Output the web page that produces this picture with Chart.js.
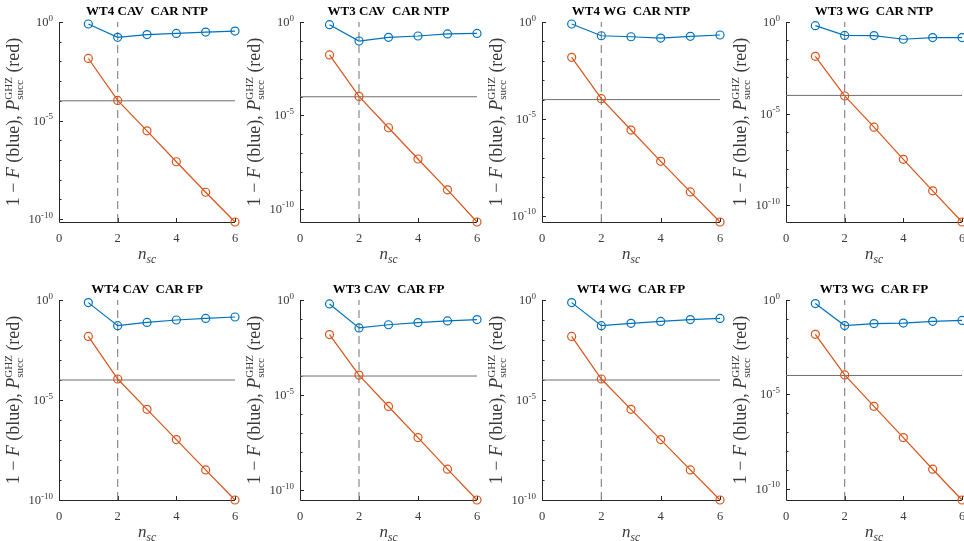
<!DOCTYPE html>
<html>
<head>
<meta charset="utf-8">
<script src="https://cdn.jsdelivr.net/npm/chart.js@4.4.1/dist/chart.umd.min.js"></script>
<style>
  html, body { margin: 0; padding: 0; background: #fff; overflow: hidden; }
  #fig { position: relative; width: 964px; height: 541px; overflow: hidden; background: #fff; }
  #fig canvas { position: absolute; }
</style>
</head>
<body>
<div id="fig"></div>
<script>
// Number of spectral channels on the x axis
const nsc = [1, 2, 3, 4, 5, 6];
const xTicks = [0, 2, 4, 6];
const yLabelDecades = [0, -5, -10];
const threshold = 1e-4;   // horizontal reference level
const cutoffN = 2;        // vertical dashed marker

const titles = [
  'WT4 CAV  CAR NTP', 'WT3 CAV  CAR NTP', 'WT4 WG  CAR NTP', 'WT3 WG  CAR NTP',
  'WT4 CAV  CAR FP',  'WT3 CAV  CAR FP',  'WT4 WG  CAR FP',  'WT3 WG  CAR FP'
];

// 1 - F (blue)
const infidWT4CavNtp = [0.79, 0.166, 0.229, 0.263, 0.309, 0.347];
const infidWT3CavNtp = [0.72, 0.096, 0.151, 0.178, 0.229, 0.245];
const infidWT4WgNtp  = [0.79, 0.195, 0.174, 0.148, 0.182, 0.214];
const infidWT3WgNtp  = [0.63, 0.186, 0.182, 0.115, 0.141, 0.141];
const infidWT4CavFp  = [0.74, 0.052, 0.076, 0.100, 0.120, 0.141];
const infidWT3CavFp  = [0.62, 0.034, 0.050, 0.065, 0.079, 0.093];
const infidWT4WgFp   = [0.74, 0.052, 0.068, 0.085, 0.105, 0.120];
const infidWT3WgFp   = [0.65, 0.044, 0.056, 0.060, 0.074, 0.083];

// P_succ^GHZ (red)
const psuccWT4CavNtp = [1.41e-2, 1.05e-4, 3.0e-6, 8.1e-8, 2.3e-9, 7.1e-11];
const psuccWT3CavNtp = [1.74e-2, 1.05e-4, 2.2e-6, 4.7e-8, 1.05e-9, 2.0e-11];
const psuccWT4WgNtp  = [1.51e-2, 1.12e-4, 2.7e-6, 6.6e-8, 1.74e-9, 4.9e-11];
const psuccWT3WgNtp  = [1.35e-2, 9.3e-5, 1.86e-6, 3.3e-8, 6.3e-10, 1.26e-11];
const psuccWT4CavFp  = [1.51e-2, 1.12e-4, 3.4e-6, 1.05e-7, 3.2e-9, 1.0e-10];
const psuccWT3CavFp  = [1.51e-2, 1.12e-4, 2.5e-6, 5.8e-8, 1.26e-9, 3.0e-11];
const psuccWT4WgFp   = [1.51e-2, 1.12e-4, 3.4e-6, 1.05e-7, 3.2e-9, 1.0e-10];
const psuccWT3WgFp   = [1.51e-2, 1.07e-4, 2.3e-6, 5.1e-8, 1.07e-9, 2.5e-11];

const infidSeries = [infidWT4CavNtp, infidWT3CavNtp, infidWT4WgNtp, infidWT3WgNtp,
                     infidWT4CavFp, infidWT3CavFp, infidWT4WgFp, infidWT3WgFp];
const psuccSeries = [psuccWT4CavNtp, psuccWT3CavNtp, psuccWT4WgNtp, psuccWT3WgNtp,
                     psuccWT4CavFp, psuccWT3CavFp, psuccWT4WgFp, psuccWT3WgFp];

// ---- layout / style ----
const BLUE = '#0072BD';
const RED = '#D95319';
const AXIS = '#262626';
const TEXT = '#3a3a3a';
const SERIF = '"Liberation Serif", "DejaVu Serif", serif';
const colLeft = [59, 300, 542, 786];
const colWidth = [176, 177, 178, 176];
const rowTop = [22, 300];
const plotH = 200;
const yAxisW = 59, topPad = 22, rightPad = 14, canvasH = 270;

function segWidth(ctx, s) {
  ctx.font = s.font;
  if (s.sup !== undefined) return Math.max(ctx.measureText(s.sup).width, ctx.measureText(s.sub).width);
  return ctx.measureText(s.text).width;
}
function segsWidth(ctx, segs) { return segs.reduce((a, s) => a + segWidth(ctx, s), 0); }
function drawSegs(ctx, segs, x, y) {
  let cx = x;
  for (const s of segs) {
    ctx.font = s.font;
    if (s.sup !== undefined) {
      ctx.fillText(s.sup, cx, y - s.up);
      ctx.fillText(s.sub, cx, y + s.down);
    } else {
      ctx.fillText(s.text, cx, y + (s.dy || 0));
    }
    cx += segWidth(ctx, s);
  }
}

const decorPlugin = {
  id: 'decor',
  beforeDatasetsDraw(chart, args, opts) {
    const { ctx, chartArea: a, scales: { x, y } } = chart;
    ctx.save();
    ctx.strokeStyle = AXIS;
    ctx.lineWidth = 1;
    // axis lines
    ctx.beginPath();
    ctx.moveTo(a.left + 0.5, a.top);
    ctx.lineTo(a.left + 0.5, a.bottom + 0.5);
    ctx.lineTo(a.right, a.bottom + 0.5);
    ctx.stroke();
    // inward ticks on y (every decade)
    ctx.beginPath();
    const lo = Math.ceil(Math.log10(y.min) - 1e-9);
    for (let d = lo; d <= 0; d++) {
      const py = Math.round(y.getPixelForValue(Math.pow(10, d))) + 0.5;
      const len = (d % 5 === 0) ? 4 : 2.5;
      ctx.moveTo(a.left, py);
      ctx.lineTo(a.left + len, py);
    }
    for (const t of xTicks) {
      const px = Math.round(x.getPixelForValue(t)) + 0.5;
      ctx.moveTo(px, a.bottom);
      ctx.lineTo(px, a.bottom - 4);
    }
    ctx.stroke();
    ctx.restore();
  },
  afterDraw(chart, args, opts) {
    const { ctx, chartArea: a, scales: { x, y } } = chart;
    ctx.save();
    ctx.fillStyle = TEXT;
    ctx.textBaseline = 'alphabetic';
    // y tick labels 10^k
    for (const d of yLabelDecades) {
      const v = Math.pow(10, d);
      if (v < y.min * 0.999) continue;
      const py = y.getPixelForValue(v);
      const segs = [
        { text: '10', font: '12.5px ' + SERIF },
        { text: d === 0 ? '0' : '-' + Math.abs(d), font: '9px ' + SERIF, dy: -5.5 }
      ];
      const w = segsWidth(ctx, segs);
      drawSegs(ctx, segs, a.left - 6 - w, py + 4);
    }
    // x tick labels
    ctx.font = '12.5px ' + SERIF;
    ctx.textAlign = 'center';
    for (const t of xTicks) {
      ctx.fillText(String(t), x.getPixelForValue(t), a.bottom + 20);
    }
    ctx.textAlign = 'left';
    // x axis title: n_sc
    const xl = [
      { text: 'n', font: 'italic 17px ' + SERIF },
      { text: 'sc', font: 'italic 11.5px ' + SERIF, dy: 3.5 }
    ];
    const xw = segsWidth(ctx, xl);
    drawSegs(ctx, xl, (a.left + a.right) / 2 - xw / 2, a.bottom + 37);
    // y axis title
    const yl = [
      { text: '1 \u2212 ', font: '18px ' + SERIF },
      { text: 'F', font: 'italic 18px ' + SERIF },
      { text: ' (blue), ', font: '18px ' + SERIF },
      { text: 'P', font: 'italic 18px ' + SERIF },
      { sup: 'GHZ', sub: 'succ', font: '11px ' + SERIF, up: 7.5, down: 4 },
      { text: ' (red)', font: '18px ' + SERIF }
    ];
    const yw = segsWidth(ctx, yl);
    ctx.translate(a.left - 40, (a.top + a.bottom) / 2);
    ctx.rotate(-Math.PI / 2);
    drawSegs(ctx, yl, -yw / 2, 0);
    ctx.setTransform(1, 0, 0, 1, 0, 0);
    // panel title
    ctx.fillStyle = '#000';
    ctx.font = 'bold 13px ' + SERIF;
    ctx.textAlign = 'center';
    ctx.fillText(opts.title, (a.left + a.right) / 2, a.top - 7);
    ctx.restore();
  }
};

const fig = document.getElementById('fig');
titles.forEach((title, i) => {
  const r = Math.floor(i / 4), c = i % 4;
  const cv = document.createElement('canvas');
  const w = yAxisW + colWidth[c] + rightPad;
  cv.width = w; cv.height = canvasH;
  cv.style.left = (colLeft[c] - yAxisW) + 'px';
  cv.style.top = (rowTop[r] - topPad) + 'px';
  cv.style.width = w + 'px'; cv.style.height = canvasH + 'px';
  fig.appendChild(cv);

  const infid = infidSeries[i], psucc = psuccSeries[i];
  const yMin = Math.min(...psucc, ...infid);
  const pts = arr => nsc.map((n, k) => ({ x: n, y: arr[k] }));

  new Chart(cv.getContext('2d'), {
    type: 'line',
    data: {
      datasets: [
        { label: '1 - F', data: pts(infid), borderColor: BLUE, borderWidth: 1.2,
          pointRadius: 4, pointBorderWidth: 1.2, pointBorderColor: BLUE,
          pointBackgroundColor: 'rgba(0,0,0,0)', clip: false, order: 0 },
        { label: 'P succ GHZ', data: pts(psucc), borderColor: RED, borderWidth: 1.2,
          pointRadius: 4, pointBorderWidth: 1.2, pointBorderColor: RED,
          pointBackgroundColor: 'rgba(0,0,0,0)', clip: false, order: 1 },
        { label: 'threshold', data: [{ x: 0, y: threshold }, { x: 6, y: threshold }],
          borderColor: '#6e6e6e', borderWidth: 1, pointRadius: 0, order: 2 },
        { label: 'cutoff', data: [{ x: cutoffN, y: yMin }, { x: cutoffN, y: 1 }],
          borderColor: '#8a8a8a', borderWidth: 1.2, borderDash: [8, 5], pointRadius: 0, order: 3 }
      ]
    },
    options: {
      responsive: false,
      animation: false,
      events: [],
      layout: { padding: { left: 0, right: rightPad, top: topPad, bottom: 0 } },
      plugins: {
        legend: { display: false },
        tooltip: { enabled: false },
        title: { display: false },
        decor: { title: title }
      },
      scales: {
        x: {
          type: 'linear', min: 0, max: 6,
          grid: { display: false }, border: { display: false },
          ticks: { display: false },
          afterFit: s => { s.height = canvasH - topPad - plotH; }
        },
        y: {
          type: 'logarithmic', min: yMin, max: 1,
          grid: { display: false }, border: { display: false },
          ticks: { display: false },
          afterFit: s => { s.width = yAxisW; }
        }
      }
    },
    plugins: [decorPlugin]
  });
});
</script>
</body>
</html>
